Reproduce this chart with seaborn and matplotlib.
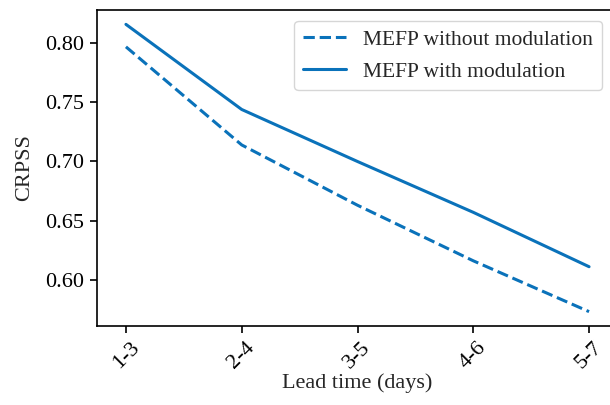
import numpy as np
import pandas as pd
import matplotlib
matplotlib.use("Agg")
import matplotlib.pyplot as plt
import seaborn as sns

lead_times = ["1-3", "2-4", "3-5", "4-6", "5-7"]
without_mod = [0.797, 0.714, 0.663, 0.616, 0.573]
with_mod = [0.816, 0.744, 0.700, 0.657, 0.611]
labels = ["MEFP without modulation", "MEFP with modulation"]

sns.set_style("ticks")
plt.rcParams['font.family'] = ['Liberation Serif', 'DejaVu Serif']

df = pd.DataFrame({
    "Lead": lead_times * 2,
    "CRPSS": without_mod + with_mod,
    "Model": [labels[0]] * len(lead_times) + [labels[1]] * len(lead_times),
})

fig = plt.figure(figsize=(6.1, 4.05), dpi=100)
ax = fig.add_axes([97 / 610, 79 / 405, 521 / 610, 316 / 405])

color = "#0a72ba"
sns.lineplot(data=df, x="Lead", y="CRPSS", style="Model", style_order=labels,
             dashes={labels[0]: (3.7, 1.6), labels[1]: ""},
             color=color, linewidth=2.2, ax=ax)

ax.set_xlim(-0.25, 4.25)
ax.set_yticks([0.60, 0.65, 0.70, 0.75, 0.80])
ax.set_yticklabels(["0.60", "0.65", "0.70", "0.75", "0.80"])
ax.tick_params(axis="both", labelsize=16, length=5, width=1.2, color="black",
               labelcolor="black", pad=4)
for lbl in ax.get_xticklabels():
    lbl.set_rotation(45)
for sp in ax.spines.values():
    sp.set_color("black")
    sp.set_linewidth(1.2)

ax.set_xlabel("Lead time (days)", fontsize=16, labelpad=0)
ax.set_ylabel("CRPSS", fontsize=16, labelpad=8)

leg = ax.legend(loc="upper right", fontsize=15.5, frameon=True,
                bbox_to_anchor=(0.969, 0.965), borderaxespad=0,
                handlelength=2.0, labelspacing=0.55)
leg.get_frame().set_edgecolor("#cccccc")

fig.savefig("out.png", dpi=100)
